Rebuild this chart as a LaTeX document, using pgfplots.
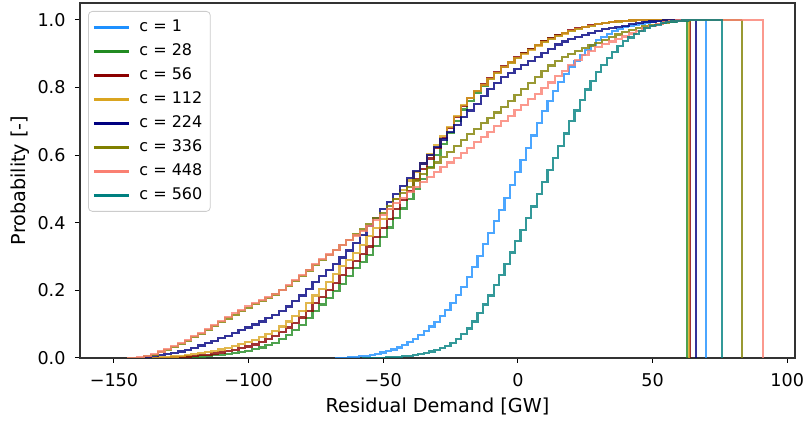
\documentclass[border=0pt]{standalone}
\usepackage{fontspec}
\setmainfont{DejaVu Sans}
\usepackage{pgfplots}
\pgfplotsset{compat=1.18}

\definecolor{cA}{RGB}{30,144,255}
\definecolor{cB}{RGB}{34,139,34}
\definecolor{cC}{RGB}{139,0,0}
\definecolor{cD}{RGB}{218,165,32}
\definecolor{cE}{RGB}{0,0,128}
\definecolor{cF}{RGB}{128,128,0}
\definecolor{cG}{RGB}{250,128,114}
\definecolor{cH}{RGB}{0,128,128}

\begin{document}
\begin{tikzpicture}
\begin{axis}[
  scale only axis,
  width=357.5pt, height=177.5pt,
  xmin=-162.6, xmax=102.9,
  ymin=0, ymax=1.05,
  axis line style={line width=0.6pt, black!80},
  tick align=outside,
  xtick pos=lower, ytick pos=left,
  major tick length=2.5pt,
  tick style={black, line width=0.5pt},
  xtick={-150,-100,-50,0,50,100},
  xticklabels={−150,−100,−50,0,50,100},
  ytick={0,0.2,0.4,0.6,0.8,1.0},
  yticklabels={0.0,0.2,0.4,0.6,0.8,1.0},
  tick label style={font=\fontsize{8.8}{10}\selectfont},
  xticklabel style={yshift=-1.8pt},
  yticklabel style={xshift=-1.2pt},
  xlabel={Residual Demand [GW]},
  ylabel={Probability [-]},
  label style={font=\fontsize{9.6}{11}\selectfont},
  xlabel style={at={(axis description cs:0.5,0)}, anchor=center, yshift=-24pt},
  ylabel style={at={(axis description cs:-0.0839,0.5)}, anchor=center},
  every axis plot/.append style={const plot mark mid, line width=1.1pt, opacity=0.8},
  legend image post style={opacity=1, line width=1.5pt},
  legend image code/.code={\draw[#1] (0pt,0pt) -- (17.5pt,0pt);},
  legend cell align=left,
  legend style={at={(0,1)}, anchor=north west, xshift=4pt, yshift=-4pt,
    font=\fontsize{8}{9.6}\selectfont, draw=black!20, rounded corners=2pt,
    fill=white, fill opacity=0.8, text opacity=1,
    nodes={text height=6pt, text depth=1.5pt, inner ysep=2.25pt},
    /tikz/every odd column/.append style={column sep=2.5pt},
    inner xsep=2pt, inner ysep=2pt},
]
% c = 1
\addplot[cA] coordinates {
(-68,0)(-66,0.0005)(-64,0.001)(-62,0.002)(-60,0.003)(-58,0.005)(-56,0.007)(-54,0.009)
(-52,0.012)(-50,0.016)(-48,0.02)(-46,0.025)(-44,0.031)(-42,0.039)(-40,0.047)(-38,0.057)
(-36,0.068)(-34,0.079)(-32,0.093)(-30,0.107)(-28,0.125)(-26,0.143)(-24,0.163)(-22,0.186)
(-20,0.21)(-18,0.24)(-16,0.27)(-14,0.302)(-12,0.336)(-10,0.37)(-8,0.404)(-6,0.438)
(-4,0.474)(-2,0.512)(0,0.55)(2,0.586)(4,0.622)(6,0.658)(8,0.694)(10,0.73)
(12,0.76)(14,0.79)(16,0.816)(18,0.839)(20,0.862)(22,0.879)(24,0.896)(26,0.912)
(28,0.926)(30,0.94)(32,0.949)(34,0.958)(36,0.966)(38,0.972)(40,0.978)(42,0.982)
(44,0.986)(46,0.989)(48,0.992)(50,0.994)(52,0.996)(54,0.997)(56,0.998)(58,0.999)
(60,1)(69.9,1)(69.9,0)
};
\addlegendentry{c = 1}
% c = 28
\addplot[cB] coordinates {
(-130,0)(-127.5,0.0005)(-125,0.001)(-122.5,0.002)(-120,0.003)(-117.5,0.0045)(-115,0.006)
(-112.5,0.008)(-110,0.01)(-107.5,0.012)(-105,0.015)(-102.5,0.018)(-100,0.021)(-97.5,0.026)
(-95,0.031)(-92.5,0.038)(-90,0.045)(-87.5,0.056)(-85,0.068)(-82.5,0.082)(-80,0.098)
(-77.5,0.118)(-75,0.138)(-72.5,0.158)(-70,0.178)(-67.5,0.199)(-65,0.22)(-62.5,0.242)
(-60,0.265)(-57.5,0.285)(-55,0.305)(-52.5,0.331)(-50,0.358)(-47.5,0.386)(-45,0.415)
(-42.5,0.442)(-40,0.47)(-37.5,0.5)(-35,0.53)(-32.5,0.565)(-30,0.6)(-27.5,0.632)
(-25,0.665)(-22.5,0.7)(-20,0.735)(-17.5,0.76)(-15,0.785)(-12.5,0.805)(-10,0.825)
(-7.5,0.843)(-5,0.86)(-2.5,0.874)(0,0.888)(2.5,0.901)(5,0.913)(7.5,0.925)(10,0.936)
(12.5,0.945)(15,0.954)(17.5,0.961)(20,0.968)(22.5,0.974)(25,0.979)(27.5,0.983)(30,0.987)
(32.5,0.99)(35,0.993)(37.5,0.995)(40,0.997)(42.5,0.998)(45,0.999)(50,1)(62.9,1)(62.9,0)
};
\addlegendentry{c = 28}
% c = 56
\addplot[cC] coordinates {
(-135,0)(-132.5,0.0005)(-130,0.001)(-127.5,0.002)(-125,0.003)(-122.5,0.0045)(-120,0.006)
(-117.5,0.008)(-115,0.01)(-112.5,0.013)(-110,0.016)(-107.5,0.02)(-105,0.024)(-102.5,0.029)
(-100,0.034)(-97.5,0.04)(-95,0.047)(-92.5,0.055)(-90,0.064)(-87.5,0.076)(-85,0.09)
(-82.5,0.104)(-80,0.12)(-77.5,0.14)(-75,0.162)(-72.5,0.181)(-70,0.2)(-67.5,0.222)
(-65,0.245)(-62.5,0.266)(-60,0.287)(-57.5,0.308)(-55,0.33)(-52.5,0.357)(-50,0.385)
(-47.5,0.412)(-45,0.44)(-42.5,0.467)(-40,0.495)(-37.5,0.528)(-35,0.56)(-32.5,0.59)
(-30,0.62)(-27.5,0.65)(-25,0.68)(-22.5,0.713)(-20,0.745)(-17.5,0.768)(-15,0.79)
(-12.5,0.809)(-10,0.827)(-7.5,0.845)(-5,0.862)(-2.5,0.876)(0,0.89)(2.5,0.902)(5,0.914)
(7.5,0.926)(10,0.937)(12.5,0.946)(15,0.955)(17.5,0.962)(20,0.969)(22.5,0.975)(25,0.98)
(27.5,0.984)(30,0.988)(32.5,0.991)(35,0.994)(37.5,0.996)(40,0.997)(42.5,0.998)(45,0.999)
(50,1)(64.0,1)(64.0,0)
};
\addlegendentry{c = 56}
% c = 112
\addplot[cD] coordinates {
(-140,0)(-137.5,0.0005)(-135,0.001)(-132.5,0.002)(-130,0.003)(-127.5,0.0045)(-125,0.006)
(-122.5,0.008)(-120,0.011)(-117.5,0.014)(-115,0.017)(-112.5,0.021)(-110,0.025)(-107.5,0.03)
(-105,0.035)(-102.5,0.041)(-100,0.047)(-97.5,0.054)(-95,0.062)(-92.5,0.071)(-90,0.08)
(-87.5,0.093)(-85,0.108)(-82.5,0.124)(-80,0.14)(-77.5,0.162)(-75,0.185)(-72.5,0.205)
(-70,0.225)(-67.5,0.249)(-65,0.272)(-62.5,0.291)(-60,0.31)(-57.5,0.335)(-55,0.36)
(-52.5,0.385)(-50,0.41)(-47.5,0.44)(-45,0.47)(-42.5,0.498)(-40,0.525)(-37.5,0.55)
(-35,0.575)(-32.5,0.602)(-30,0.63)(-27.5,0.657)(-25,0.683)(-22.5,0.716)(-20,0.748)
(-17.5,0.77)(-15,0.79)(-12.5,0.808)(-10,0.825)(-7.5,0.843)(-5,0.86)(-2.5,0.874)(0,0.888)
(2.5,0.9)(5,0.912)(7.5,0.924)(10,0.935)(12.5,0.944)(15,0.953)(17.5,0.96)(20,0.967)
(22.5,0.973)(25,0.979)(27.5,0.983)(30,0.987)(32.5,0.99)(35,0.993)(37.5,0.995)(40,0.997)
(42.5,0.998)(45,0.999)(50,1)(63.5,1)(63.5,0)
};
\addlegendentry{c = 112}
% c = 224
\addplot[cE] coordinates {
(-145,0)(-142.5,0.0003)(-140,0.001)(-137.5,0.003)(-135,0.005)(-132.5,0.008)(-130,0.011)
(-127.5,0.015)(-125,0.019)(-122.5,0.024)(-120,0.03)(-117.5,0.037)(-115,0.044)(-112.5,0.051)
(-110,0.059)(-107.5,0.066)(-105,0.074)(-102.5,0.082)(-100,0.09)(-97.5,0.099)(-95,0.108)
(-92.5,0.118)(-90,0.128)(-87.5,0.14)(-85,0.152)(-82.5,0.168)(-80,0.185)(-77.5,0.205)
(-75,0.225)(-72.5,0.242)(-70,0.26)(-67.5,0.278)(-65,0.297)(-62.5,0.318)(-60,0.339)
(-57.5,0.364)(-55,0.39)(-52.5,0.415)(-50,0.44)(-47.5,0.462)(-45,0.485)(-42.5,0.508)
(-40,0.532)(-37.5,0.554)(-35,0.575)(-32.5,0.6)(-30,0.625)(-27.5,0.646)(-25,0.668)
(-22.5,0.69)(-20,0.712)(-17.5,0.732)(-15,0.752)(-12.5,0.774)(-10,0.795)(-7.5,0.813)
(-5,0.83)(-2.5,0.843)(0,0.855)(2.5,0.867)(5,0.878)(7.5,0.89)(10,0.902)(12.5,0.915)
(15,0.927)(17.5,0.936)(20,0.944)(22.5,0.95)(25,0.956)(27.5,0.962)(30,0.967)(32.5,0.972)
(35,0.976)(37.5,0.98)(40,0.983)(42.5,0.987)(45,0.99)(47.5,0.993)(50,0.995)(52.5,0.997)
(55,0.998)(57.5,0.999)(60,1)(66.2,1)(66.2,0)
};
\addlegendentry{c = 224}
% c = 336
\addplot[cF] coordinates {
(-145,0)(-142.5,0.0003)(-140,0.001)(-137.5,0.005)(-135,0.01)(-132.5,0.017)(-130,0.024)
(-127.5,0.033)(-125,0.042)(-122.5,0.051)(-120,0.061)(-117.5,0.071)(-115,0.082)(-112.5,0.094)
(-110,0.106)(-107.5,0.117)(-105,0.128)(-102.5,0.138)(-100,0.149)(-97.5,0.159)(-95,0.169)
(-92.5,0.178)(-90,0.188)(-87.5,0.2)(-85,0.213)(-82.5,0.228)(-80,0.243)(-77.5,0.259)
(-75,0.275)(-72.5,0.29)(-70,0.305)(-67.5,0.32)(-65,0.335)(-62.5,0.35)(-60,0.365)
(-57.5,0.38)(-55,0.396)(-52.5,0.413)(-50,0.43)(-47.5,0.45)(-45,0.47)(-42.5,0.488)
(-40,0.506)(-37.5,0.525)(-35,0.544)(-32.5,0.561)(-30,0.578)(-27.5,0.594)(-25,0.61)
(-22.5,0.628)(-20,0.645)(-17.5,0.662)(-15,0.678)(-12.5,0.694)(-10,0.71)(-7.5,0.726)
(-5,0.743)(-2.5,0.76)(0,0.777)(2.5,0.796)(5,0.814)(7.5,0.832)(10,0.85)(12.5,0.865)
(15,0.879)(17.5,0.89)(20,0.9)(22.5,0.908)(25,0.916)(27.5,0.924)(30,0.932)(32.5,0.941)
(35,0.95)(37.5,0.957)(40,0.964)(42.5,0.97)(45,0.976)(47.5,0.981)(50,0.985)(52.5,0.989)
(55,0.992)(57.5,0.995)(60,0.997)(62.5,0.998)(65,0.999)(70,1)(83.2,1)(83.2,0)
};
\addlegendentry{c = 336}
% c = 448
\addplot[cG] coordinates {
(-145,0)(-142.5,0.0005)(-140,0.002)(-137.5,0.006)(-135,0.012)(-132.5,0.019)(-130,0.027)
(-127.5,0.036)(-125,0.045)(-122.5,0.054)(-120,0.064)(-117.5,0.074)(-115,0.085)(-112.5,0.097)
(-110,0.11)(-107.5,0.121)(-105,0.132)(-102.5,0.142)(-100,0.153)(-97.5,0.162)(-95,0.172)
(-92.5,0.181)(-90,0.19)(-87.5,0.202)(-85,0.215)(-82.5,0.23)(-80,0.245)(-77.5,0.261)
(-75,0.277)(-72.5,0.292)(-70,0.306)(-67.5,0.32)(-65,0.334)(-62.5,0.348)(-60,0.362)
(-57.5,0.376)(-55,0.391)(-52.5,0.407)(-50,0.424)(-47.5,0.441)(-45,0.458)(-42.5,0.474)
(-40,0.49)(-37.5,0.506)(-35,0.521)(-32.5,0.536)(-30,0.551)(-27.5,0.565)(-25,0.578)
(-22.5,0.592)(-20,0.607)(-17.5,0.622)(-15,0.638)(-12.5,0.653)(-10,0.669)(-7.5,0.685)
(-5,0.7)(-2.5,0.716)(0,0.733)(2.5,0.749)(5,0.765)(7.5,0.781)(10,0.798)(12.5,0.815)
(15,0.833)(17.5,0.85)(20,0.866)(22.5,0.882)(25,0.897)(27.5,0.909)(30,0.92)(32.5,0.928)
(35,0.936)(37.5,0.944)(40,0.951)(42.5,0.96)(45,0.968)(47.5,0.975)(50,0.982)(52.5,0.988)
(55,0.993)(57.5,0.996)(60,0.998)(62.5,0.999)(65,1)(91,1)(91,0)
};
\addlegendentry{c = 448}
% c = 560
\addplot[cH] coordinates {
(-58,0)(-56,0.0003)(-54,0.0006)(-52,0.0008)(-50,0.001)(-48,0.0015)(-46,0.0025)(-44,0.0035)
(-42,0.005)(-40,0.007)(-38,0.009)(-36,0.0115)(-34,0.015)(-32,0.019)(-30,0.023)(-28,0.029)
(-26,0.036)(-24,0.044)(-22,0.055)(-20,0.07)(-18,0.087)(-16,0.108)(-14,0.133)(-12,0.158)
(-10,0.185)(-8,0.215)(-6,0.246)(-4,0.278)(-2,0.312)(0,0.345)(2,0.379)(4,0.413)
(6,0.448)(8,0.484)(10,0.52)(12,0.556)(14,0.592)(16,0.628)(18,0.664)(20,0.7)
(22,0.732)(24,0.764)(26,0.794)(28,0.82)(30,0.845)(32,0.867)(34,0.888)(36,0.906)
(38,0.922)(40,0.937)(42,0.948)(44,0.958)(46,0.967)(48,0.975)(50,0.982)(52,0.986)
(54,0.99)(56,0.993)(58,0.995)(60,0.997)(62,0.998)(64,0.999)(66,1)(75.8,1)(75.8,0)
};
\addlegendentry{c = 560}
\end{axis}
\pgfresetboundingbox
\useasboundingbox (-40pt,-31.5pt) rectangle (362.5pt,179pt);
\end{tikzpicture}
\end{document}
